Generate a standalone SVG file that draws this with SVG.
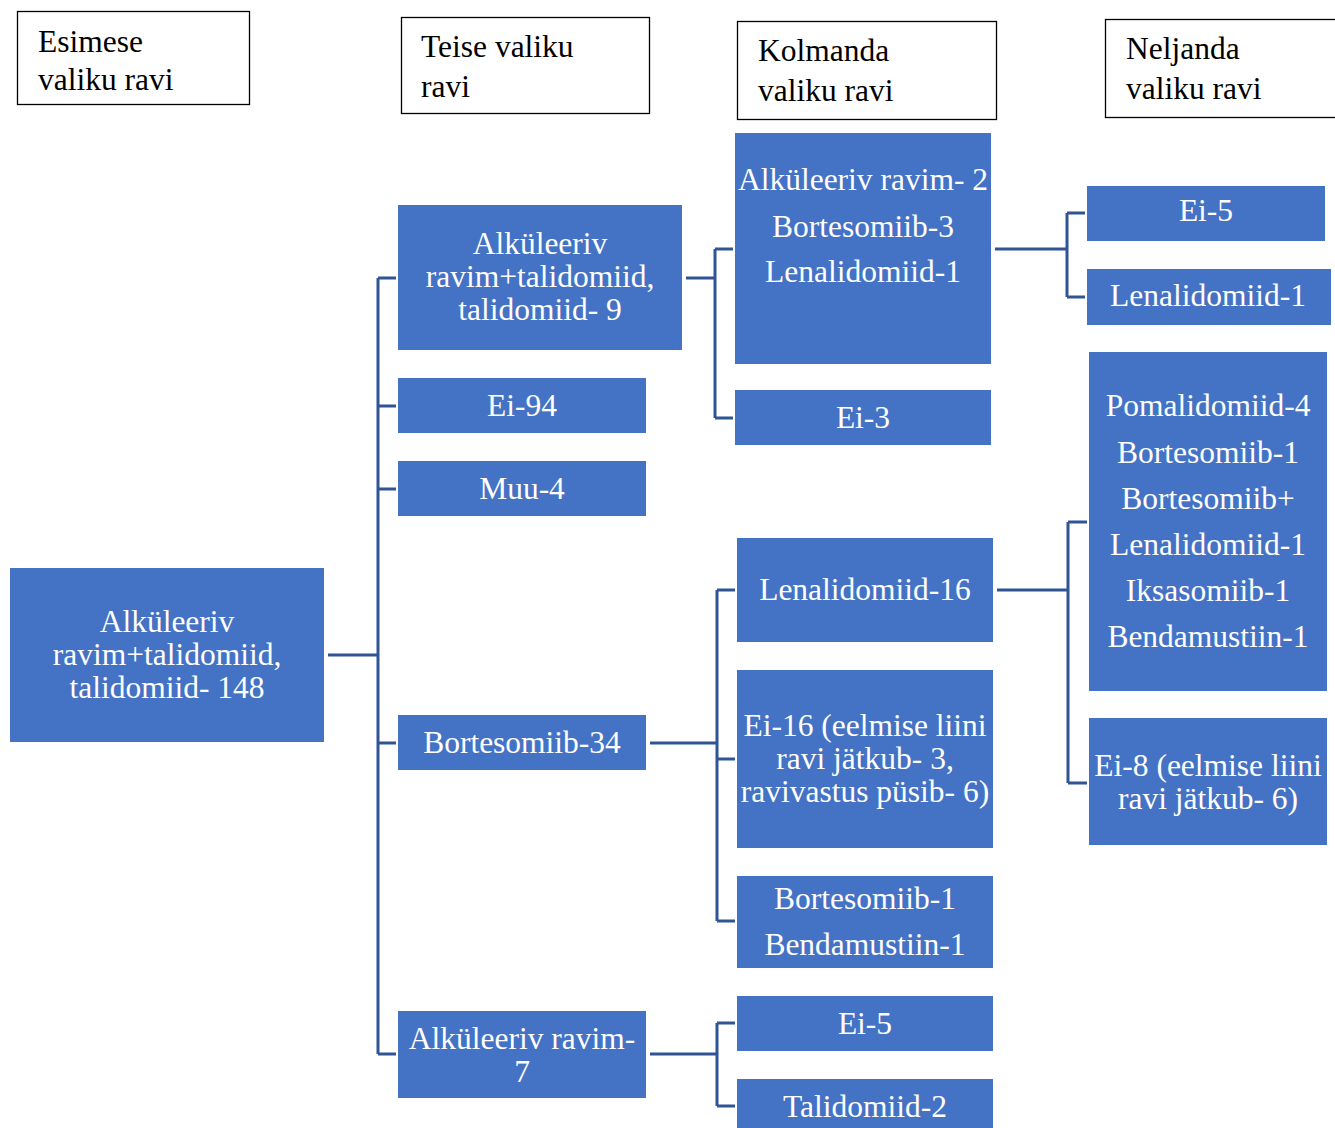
<svg xmlns="http://www.w3.org/2000/svg" width="1335" height="1128" viewBox="0 0 1335 1128">
<style>
.hdr rect{fill:#fff;stroke:#000;stroke-width:1.3}
.hdr text{font-family:"Liberation Serif","Times New Roman",serif;font-size:31.5px;fill:#000}
.n rect{fill:#4472C4}
.n text{font-family:"Liberation Serif","Times New Roman",serif;font-size:31.5px;fill:#fff;text-anchor:middle}
.c{fill:none;stroke:#2F5597;stroke-width:3}
</style>
<rect width="1335" height="1128" fill="#fff"/>
<g id="h1" class="hdr"><rect x="17.5" y="11.5" width="232" height="93"/><text x="38" y="52">Esimese</text><text x="38" y="90">valiku ravi</text></g>
<g id="h2" class="hdr"><rect x="401.5" y="17.5" width="248" height="96"/><text x="421" y="57">Teise valiku</text><text x="421" y="97">ravi</text></g>
<g id="h3" class="hdr"><rect x="737.5" y="21.5" width="259" height="98"/><text x="758" y="61">Kolmanda</text><text x="758" y="101">valiku ravi</text></g>
<g id="h4" class="hdr"><rect x="1105.5" y="19.5" width="240" height="98"/><text x="1126" y="59">Neljanda</text><text x="1126" y="99">valiku ravi</text></g>

<g id="connectors">
<path class="c" d="M328 655H378M378 278V1054M378 278H396M378 406H396M378 489H396M378 743H396M378 1054H396"/>
<path class="c" d="M686 278H715M715 249V418M715 249H733M715 418H733"/>
<path class="c" d="M995 249H1067M1067 213V297M1067 213H1085M1067 297H1085"/>
<path class="c" d="M650 743H717M717 590V921M717 590H735M717 759H735M717 921H735"/>
<path class="c" d="M997 590H1068M1068 522V783M1068 522H1087M1068 783H1087"/>
<path class="c" d="M650 1054H717M717 1023V1106M717 1023H735M717 1106H735"/>
</g>

<g id="root" class="n"><rect x="10" y="568" width="314" height="174"/><text x="167" y="632">Alküleeriv</text><text x="167" y="665">ravim+talidomiid,</text><text x="167" y="698">talidomiid- 148</text></g>

<g id="l2a" class="n"><rect x="398" y="205" width="284" height="145"/><text x="540" y="254">Alküleeriv</text><text x="540" y="287">ravim+talidomiid,</text><text x="540" y="320">talidomiid- 9</text></g>
<g id="l2b" class="n"><rect x="398" y="378" width="248" height="55"/><text x="522" y="416">Ei-94</text></g>
<g id="l2c" class="n"><rect x="398" y="461" width="248" height="55"/><text x="522" y="499">Muu-4</text></g>
<g id="l2d" class="n"><rect x="398" y="715" width="248" height="55"/><text x="522" y="753">Bortesomiib-34</text></g>
<g id="l2e" class="n"><rect x="398" y="1011" width="248" height="87"/><text x="522" y="1049">Alküleeriv ravim-</text><text x="522" y="1082">7</text></g>

<g id="l3a" class="n"><rect x="735" y="133" width="256" height="231"/><text x="863" y="190">Alküleeriv ravim- 2</text><text x="863" y="237">Bortesomiib-3</text><text x="863" y="282">Lenalidomiid-1</text></g>
<g id="l3b" class="n"><rect x="735" y="390" width="256" height="55"/><text x="863" y="428">Ei-3</text></g>
<g id="l3c" class="n"><rect x="737" y="538" width="256" height="104"/><text x="865" y="600">Lenalidomiid-16</text></g>
<g id="l3d" class="n"><rect x="737" y="670" width="256" height="178"/><text x="865" y="736">Ei-16 (eelmise liini</text><text x="865" y="769">ravi jätkub- 3,</text><text x="865" y="802">ravivastus püsib- 6)</text></g>
<g id="l3e" class="n"><rect x="737" y="876" width="256" height="92"/><text x="865" y="909">Bortesomiib-1</text><text x="865" y="955">Bendamustiin-1</text></g>
<g id="l3f" class="n"><rect x="737" y="996" width="256" height="55"/><text x="865" y="1034">Ei-5</text></g>
<g id="l3g" class="n"><rect x="737" y="1079" width="256" height="49"/><text x="865" y="1117">Talidomiid-2</text></g>

<g id="l4a" class="n"><rect x="1087" y="186" width="238" height="55"/><text x="1206" y="221">Ei-5</text></g>
<g id="l4b" class="n"><rect x="1087" y="269" width="244" height="56"/><text x="1208" y="306">Lenalidomiid-1</text></g>
<g id="l4c" class="n"><rect x="1089" y="352" width="238" height="339"/><text x="1208" y="416">Pomalidomiid-4</text><text x="1208" y="463">Bortesomiib-1</text><text x="1208" y="509">Bortesomiib+</text><text x="1208" y="555">Lenalidomiid-1</text><text x="1208" y="601">Iksasomiib-1</text><text x="1208" y="647">Bendamustiin-1</text></g>
<g id="l4d" class="n"><rect x="1089" y="718" width="238" height="127"/><text x="1208" y="776">Ei-8 (eelmise liini</text><text x="1208" y="809">ravi jätkub- 6)</text></g>
</svg>
